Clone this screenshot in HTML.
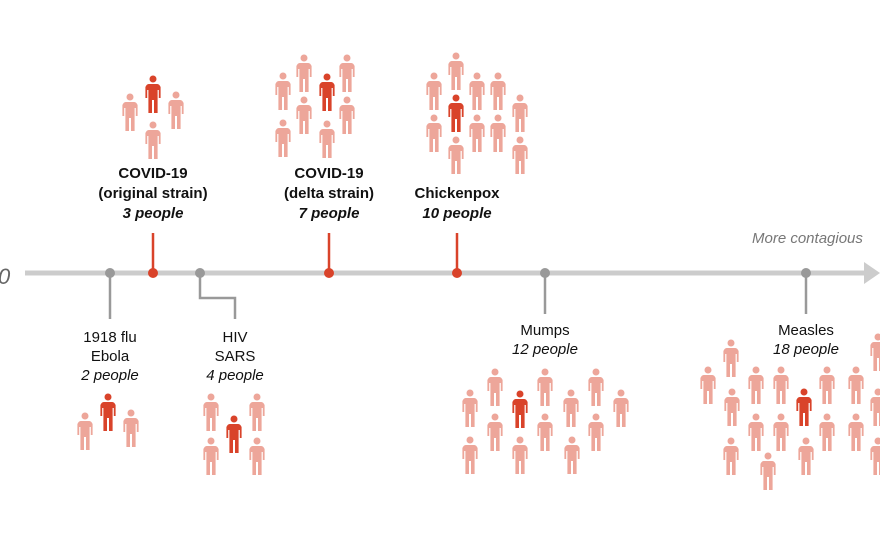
<!DOCTYPE html>
<html><head><meta charset="utf-8"><style>
html,body{margin:0;padding:0;background:#fff;}
svg{display:block;}
text{font-family:"Liberation Sans",sans-serif;font-size:15px;fill:#111;}
.b{font-weight:bold;}
.i{font-style:italic;}
</style></head><body>
<svg width="880" height="542" viewBox="0 0 880 542" xmlns="http://www.w3.org/2000/svg">
<defs>
<g id="p"><circle cx="0" cy="0" r="3.5"/><path d="M-4.3,5 H4.3 Q6.3,5 7.6,8 V19 H5.8 V11 H4.6 V34 H1 V21 H-1 V34 H-4.6 V11 H-5.8 V19 H-7.6 V8 Q-6.3,5 -4.3,5 Z"/></g>
</defs>
<line x1="25" y1="273" x2="866" y2="273" stroke="#cccccc" stroke-width="5"/>
<path d="M864,262 L880,273 L864,284 Z" fill="#cccccc"/>
<text x="-2" y="284" class="i" style="font-size:22px;fill:#666">0</text>
<text x="752" y="243" class="i" style="fill:#777;font-size:15px">More contagious</text>
<g stroke="#999" stroke-width="2.5" fill="none">
<line x1="110" y1="273" x2="110" y2="319"/>
<polyline points="200,273 200,298 235,298 235,319"/>
<line x1="545" y1="273" x2="545" y2="314"/>
<line x1="806" y1="273" x2="806" y2="314"/>
</g>
<g stroke="#d9432a" stroke-width="2.5">
<line x1="153" y1="273" x2="153" y2="233"/>
<line x1="329" y1="273" x2="329" y2="233"/>
<line x1="457" y1="273" x2="457" y2="233"/>
</g>
<g fill="#999"><circle cx="110" cy="273" r="5"/><circle cx="200" cy="273" r="5"/><circle cx="545" cy="273" r="5"/><circle cx="806" cy="273" r="5"/></g>
<g fill="#d9432a"><circle cx="153" cy="273" r="5"/><circle cx="329" cy="273" r="5"/><circle cx="457" cy="273" r="5"/></g>
<g text-anchor="middle">
<text x="153" y="178" class="b">COVID-19</text>
<text x="153" y="198" class="b">(original strain)</text>
<text x="153" y="218" class="b i">3 people</text>
<text x="329" y="178" class="b">COVID-19</text>
<text x="329" y="198" class="b">(delta strain)</text>
<text x="329" y="218" class="b i">7 people</text>
<text x="457" y="198" class="b">Chickenpox</text>
<text x="457" y="218" class="b i">10 people</text>
<text x="110" y="342">1918 flu</text>
<text x="110" y="361">Ebola</text>
<text x="110" y="380" class="i">2 people</text>
<text x="235" y="342">HIV</text>
<text x="235" y="361">SARS</text>
<text x="235" y="380" class="i">4 people</text>
<text x="545" y="335">Mumps</text>
<text x="545" y="354" class="i">12 people</text>
<text x="806" y="335">Measles</text>
<text x="806" y="354" class="i">18 people</text>
</g>
<g fill="#eda69a">
<use href="#p" x="130" y="97"/><use href="#p" x="176" y="95"/><use href="#p" x="153" y="125"/>
<use href="#p" x="85" y="416"/><use href="#p" x="131" y="413"/>
<use href="#p" x="211" y="397"/><use href="#p" x="257" y="397"/><use href="#p" x="211" y="441"/><use href="#p" x="257" y="441"/>
<use href="#p" x="283" y="76"/><use href="#p" x="304" y="58"/><use href="#p" x="347" y="58"/><use href="#p" x="304" y="100"/><use href="#p" x="347" y="100"/><use href="#p" x="283" y="123"/><use href="#p" x="327" y="124"/>
<use href="#p" x="456" y="56"/><use href="#p" x="434" y="76"/><use href="#p" x="477" y="76"/><use href="#p" x="498" y="76"/><use href="#p" x="520" y="98"/><use href="#p" x="434" y="118"/><use href="#p" x="477" y="118"/><use href="#p" x="498" y="118"/><use href="#p" x="456" y="140"/><use href="#p" x="520" y="140"/>
<use href="#p" x="470" y="393"/><use href="#p" x="495" y="372"/><use href="#p" x="545" y="372"/><use href="#p" x="571" y="393"/><use href="#p" x="596" y="372"/><use href="#p" x="621" y="393"/><use href="#p" x="495" y="417"/><use href="#p" x="545" y="417"/><use href="#p" x="596" y="417"/><use href="#p" x="470" y="440"/><use href="#p" x="520" y="440"/><use href="#p" x="572" y="440"/>
<use href="#p" x="708" y="370"/><use href="#p" x="731" y="343"/><use href="#p" x="756" y="370"/><use href="#p" x="781" y="370"/><use href="#p" x="827" y="370"/><use href="#p" x="856" y="370"/><use href="#p" x="732" y="392"/><use href="#p" x="756" y="417"/><use href="#p" x="781" y="417"/><use href="#p" x="827" y="417"/><use href="#p" x="856" y="417"/><use href="#p" x="731" y="441"/><use href="#p" x="768" y="456"/><use href="#p" x="806" y="441"/><use href="#p" x="878" y="337"/><use href="#p" x="878" y="392"/><use href="#p" x="878" y="441"/>
</g>
<g fill="#d9432a">
<use href="#p" x="153" y="79"/><use href="#p" x="108" y="397"/><use href="#p" x="234" y="419"/><use href="#p" x="327" y="77"/><use href="#p" x="456" y="98"/><use href="#p" x="520" y="394"/><use href="#p" x="804" y="392"/>
</g>
</svg>
</body></html>
